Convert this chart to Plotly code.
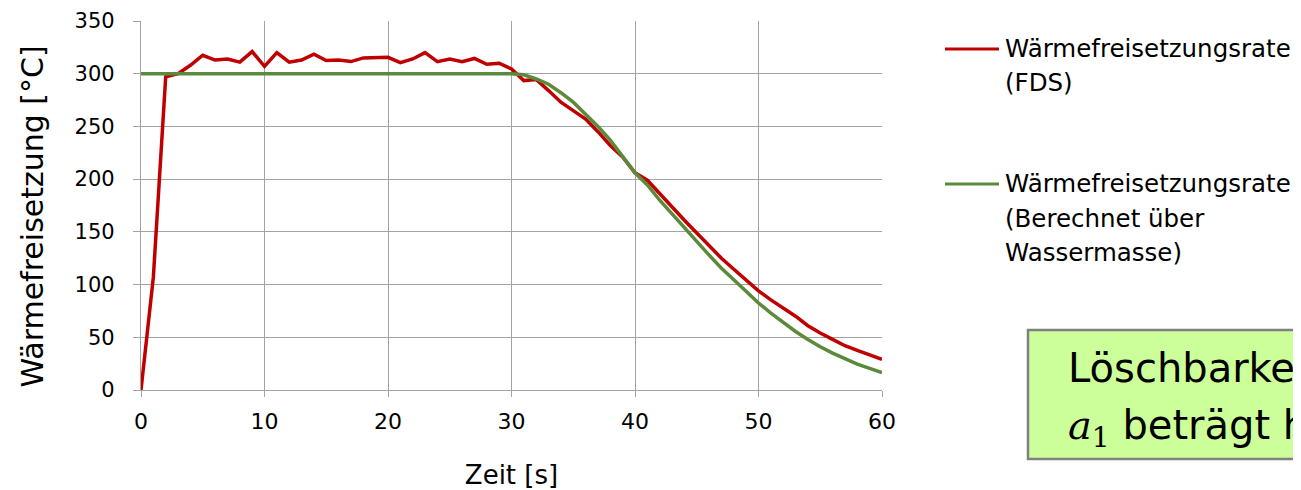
import plotly.graph_objects as go

# ---- data ----
time_s = list(range(0, 61))
fds_rate = [0, 107, 297, 300, 308, 317.5, 313, 314, 311, 321,
            307, 320, 311, 313, 318.5, 312.5, 313, 311.5, 315, 315,
            315.5, 310.5, 314, 320, 311.5, 314, 311.5, 314.5, 309, 310,
            304.5, 293.5, 294.5, 284, 273, 265, 257, 245, 232, 221,
            206, 199, 186, 174, 161, 149, 137, 125, 114.5, 104,
            94, 85.5, 77.5, 70, 61, 54, 48, 42, 37.5, 33,
            29]
calc_rate = [300] * 31 + [299, 295, 290, 282, 273, 262, 250, 237, 222,
                          206, 194.5, 180, 167, 153.5, 141, 128, 115.5, 104.5, 93.5,
                          82.5, 73, 64, 55.5, 48, 41, 35, 29.5, 24.5, 20.5,
                          16.5]
x_ticks = [0, 10, 20, 30, 40, 50, 60]
y_ticks = [0, 50, 100, 150, 200, 250, 300, 350]
series_names = ["Wärmefreisetzungsrate (FDS)",
                "Wärmefreisetzungsrate (Berechnet über Wassermasse)"]
legend_lines = [["Wärmefreisetzungsrate", "(FDS)"],
                ["Wärmefreisetzungsrate", "(Berechnet über", "Wassermasse)"]]
colors = ["#C00000", "#5A8A3A"]
x_title = "Zeit [s]"
y_title = "Wärmefreisetzung [°C]"
box_lines = ["Löschbarkeit",
             "<span style='font-family:\"DejaVu Serif\"'><i>a</i><sub>1</sub></span> beträgt hier"]

FONT = "DejaVu Sans"
OFF = 8                       # page body margin of the browser
W, H = 1301 - OFF, 490 - OFF
L, R, T, B = 141 - OFF, 882 - OFF, 21 - OFF, 390 - OFF   # plot area in figure pixels


def px(xp):
    """window x pixel -> paper coordinate"""
    return (xp - OFF - L) / (R - L)


def py(yp):
    """window y pixel -> paper coordinate"""
    return (B - (yp - OFF)) / (B - T)


fig = go.Figure()
fig.add_trace(go.Scatter(x=time_s, y=fds_rate, mode="lines", name=series_names[0],
                         line=dict(color=colors[0], width=3.5), showlegend=False))
fig.add_trace(go.Scatter(x=time_s, y=calc_rate, mode="lines", name=series_names[1],
                         line=dict(color=colors[1], width=3.5), showlegend=False))

grid = "#A3A3A3"
fig.update_xaxes(range=[0, 60], tickvals=x_ticks, showgrid=True, gridcolor=grid, gridwidth=1.3,
                 showline=True, linecolor=grid, linewidth=1.3, zeroline=False,
                 ticks="outside", ticklen=6, tickcolor=grid, tickwidth=1.3,
                 ticklabelstandoff=5, automargin=False,
                 tickfont=dict(family=FONT, size=22, color="#000"),
                 title=dict(text=x_title, font=dict(family=FONT, size=26, color="#000"), standoff=33))
fig.update_yaxes(range=[0, 350], tickvals=y_ticks, showgrid=True, gridcolor=grid, gridwidth=1.3,
                 showline=True, linecolor=grid, linewidth=1.3, zeroline=False,
                 ticks="outside", ticklen=7, tickcolor=grid, tickwidth=1.3,
                 ticklabelstandoff=14, automargin=False,
                 tickfont=dict(family=FONT, size=21, color="#000"))

shapes = []
annotations = []
# y axis title (placed where the reference has it)
annotations.append(dict(text=y_title, xref="paper", yref="paper", x=px(32), y=py(216.5),
                        xanchor="center", yanchor="middle", textangle=-90, showarrow=False,
                        font=dict(family=FONT, size=30, color="#000")))
# manual legend
leg_line_y = [49, 184]
leg_text_y = [[47.5, 81], [182.5, 217, 251]]
for i in range(2):
    shapes.append(dict(type="line", xref="paper", yref="paper",
                       x0=px(945), x1=px(999), y0=py(leg_line_y[i]), y1=py(leg_line_y[i]),
                       line=dict(color=colors[i], width=3)))
    for txt, yy in zip(legend_lines[i], leg_text_y[i]):
        annotations.append(dict(text=txt, xref="paper", yref="paper", x=px(1003), y=py(yy + 1),
                                xanchor="left", yanchor="middle", showarrow=False,
                                font=dict(family=FONT, size=24.5, color="#000")))

# text box (runs past the right edge, as in the reference)
shapes.append(dict(type="rect", xref="paper", yref="paper",
                   x0=px(1028), x1=px(1330), y0=py(459), y1=py(330),
                   fillcolor="#CCFF99", line=dict(color="#808080", width=2.5)))
box_y = [367, 427]
for txt, yy in zip(box_lines, box_y):
    annotations.append(dict(text=txt, xref="paper", yref="paper", x=px(1066), y=py(yy + 1),
                            xanchor="left", yanchor="middle", showarrow=False,
                            font=dict(family=FONT, size=40, color="#000")))

fig.update_layout(width=W, height=H, margin=dict(l=L, r=W - R, t=T, b=H - B, autoexpand=False),
                  plot_bgcolor="white", paper_bgcolor="white",
                  shapes=shapes, annotations=annotations)

fig.write_html("out.html")
